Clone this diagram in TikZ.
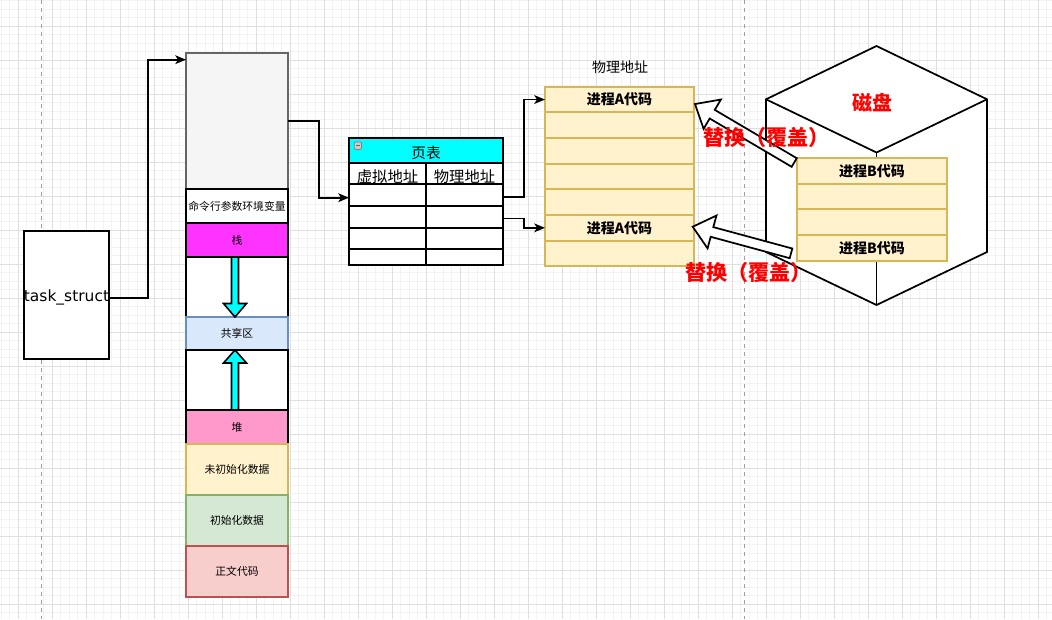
\documentclass[tikz,border=0pt]{standalone}
\usepackage{fontspec}
\setmainfont{Noto Sans CJK SC}
\newfontfamily\tsfont{DejaVu Sans}
\usetikzlibrary{arrows.meta,calc,fit}
\definecolor{gridmin}{HTML}{F3F3F3}
\definecolor{gridmaj}{HTML}{DFDFDF}
\definecolor{grayfill}{HTML}{F5F5F5}
\definecolor{grayline}{HTML}{666666}
\definecolor{stackc}{HTML}{FF33FF}
\definecolor{heapc}{HTML}{FF99CC}
\definecolor{bluef}{HTML}{DAE8FC}
\definecolor{bluel}{HTML}{6C8EBF}
\definecolor{yelf}{HTML}{FFF2CC}
\definecolor{yell}{HTML}{D6B656}
\definecolor{grnf}{HTML}{D5E8D4}
\definecolor{grnl}{HTML}{82B366}
\definecolor{redf}{HTML}{F8CECC}
\definecolor{redl}{HTML}{B85450}
\definecolor{cyanc}{HTML}{00FFFF}
\definecolor{pagebrk}{HTML}{A0A0A0}
\tikzset{
  rect/.style={draw=black, line width=1.4pt, inner sep=0pt, outer sep=0pt},
  crect/.style={draw=#1, line width=1.2pt, inner sep=0pt, outer sep=0pt},
  txt/.style={inner sep=0pt, anchor=center},
  small/.style={txt, font=\fontsize{8.1pt}{9pt}\selectfont},
  mid/.style={txt, font=\fontsize{11pt}{12pt}\selectfont},
  midb/.style={txt, font=\fontsize{10.5pt}{12pt}\selectfont\bfseries},
  redlbl/.style={text=red, font=\fontsize{15.8pt}{17pt}\selectfont\bfseries},
  arr/.style={draw=black, line width=1.4pt, -{Stealth[length=8pt,width=6.5pt,inset=2pt]}},
  cyanarrow/.style={fill=cyanc, draw=black, line width=1.2pt, line join=miter},
  flex/.style={fill=white, draw=black, line width=1.3pt, line join=miter},
  tline/.style={draw=black, line width=1.3pt, inner sep=0pt, outer sep=0pt}
}
\newcommand{\flexarrow}[2]{%
  \coordinate (hb) at ($(#2)!15pt!(#1)$);
  \draw[flex] ($(#1)!3.75pt!90:(#2)$) -- ($(hb)!3.75pt!90:(#2)$) -- ($(hb)!12.75pt!90:(#2)$) -- (#2)
    -- ($(hb)!12.75pt!-90:(#2)$) -- ($(hb)!3.75pt!-90:(#2)$) -- ($(#1)!3.75pt!-90:(#2)$) -- cycle;}
\begin{document}
\begin{tikzpicture}[x=0.75pt,y=-0.75pt]
\useasboundingbox (0,0) rectangle (1052,619);
\fill[white] (0,0) rectangle (1052,619);
% grid
\foreach \i in {0,...,123} {\draw[gridmin, line width=0.75pt] ({1.3+8.5*\i},0) -- ({1.3+8.5*\i},619);}
\foreach \i in {0,...,72} {\draw[gridmin, line width=0.75pt] (0,{0.8+8.5*\i}) -- (1052,{0.8+8.5*\i});}
\foreach \i in {0,...,30} {\draw[gridmaj, line width=0.75pt] ({18.3+34*\i},0) -- ({18.3+34*\i},619);}
\foreach \i in {0,...,17} {\draw[gridmaj, line width=0.75pt] (0,{26.3+34*\i}) -- (1052,{26.3+34*\i});}
\draw[pagebrk, line width=0.75pt, dash pattern=on 3pt off 3pt] (41.7,0) -- (41.7,619);
\draw[pagebrk, line width=0.75pt, dash pattern=on 3pt off 3pt] (744.7,0) -- (744.7,619);

% task_struct
\node[rect, fill=white, fit={(24,231) (109,359)}] (ts) {};
\node[txt, font=\tsfont\fontsize{11.6pt}{13pt}\selectfont] (tstext) at (66.5,297.5) {task\_struct};

% memory column
\node[crect=grayline, fill=grayfill, fit={(186,53) (288,189)}] (gray) {};
\node[rect, fill=white, fit={(186,189) (288,223)}] (env) {};
\node[rect, fill=stackc, fit={(186,223) (288,257)}] (stack) {};
\node[rect, fill=white, fit={(186,257) (288,317)}] (gap1) {};
\node[crect=bluel, fill=bluef, fit={(186,317) (288,350)}] (shared) {};
\node[rect, fill=white, fit={(186,350) (288,410)}] (gap2) {};
\node[rect, fill=heapc, fit={(186,410) (288,444)}] (heap) {};
\node[crect=yell, fill=yelf, fit={(186,444) (288,495)}] (bss) {};
\node[crect=grnl, fill=grnf, fit={(186,495) (288,546)}] (data) {};
\node[crect=redl, fill=redf, fit={(186,546) (288,597)}] (code) {};
\node[small] (envt) at (env.center) {命令行参数环境变量};
\node[small] (stackt) at (stack.center) {栈};
\node[small] (sharedt) at (shared.center) {共享区};
\node[small] (heapt) at (heap.center) {堆};
\node[small] (bsst) at (bss.center) {未初始化数据};
\node[small] (datat) at (data.center) {初始化数据};
\node[small] (codet) at (code.center) {正文代码};

% cyan arrows
\draw[cyanarrow] (231.5,257) -- (238.5,257) -- (238.5,303.5) -- (246.5,303.5) -- (235,317) -- (223.5,303.5) -- (231.5,303.5) -- cycle;
\draw[cyanarrow] (231.5,410) -- (238.5,410) -- (238.5,363) -- (246.5,363) -- (235,350) -- (223.5,363) -- (231.5,363) -- cycle;

% page table
\node[rect, fill=white, fit={(349,138) (503,265)}] (pt) {};
\node[rect, fill=cyanc, fit={(349,138) (503,163)}] (ph) {};
\node[mid] (pht) at ($(ph.center)+(0,2.5)$) {页表};
\fill[gray!40, draw=gray, line width=0.5pt, rounded corners=0.8pt] (354.3,142) rectangle (361.5,149.5);
\draw[gray!80!black, line width=0.8pt] (355.8,145.8) -- (360,145.8);
\node[tline, fit={(349,163) (426,184)}] (va) {};
\node[tline, fit={(426,163) (503,184)}] (pa) {};
\node[mid, font=\fontsize{11.5pt}{12pt}\selectfont] (vat) at ($(va.center)+(0,3.5)$) {虚拟地址};
\node[mid, font=\fontsize{11.5pt}{12pt}\selectfont] (pat) at ($(pa.center)+(0,3.5)$) {物理地址};
\node[tline, fit={(349,184) (426,206)}] (r1a) {};
\node[tline, fit={(426,184) (503,206)}] (r1b) {};
\node[tline, fit={(349,206) (426,228)}] (r2a) {};
\node[tline, fit={(426,206) (503,228)}] (r2b) {};
\node[tline, fit={(349,228) (426,249)}] (r3a) {};
\node[tline, fit={(426,228) (503,249)}] (r3b) {};
\node[tline, fit={(349,249) (426,265)}] (r4a) {};
\node[tline, fit={(426,249) (503,265)}] (r4b) {};
\draw[black, line width=1.5pt] (pt.north west) rectangle (pt.south east);

% physical memory
\node[txt, font=\fontsize{10.5pt}{12pt}\selectfont] (pmlabel) at (620,67.5) {物理地址};
\foreach \k in {1,...,7} {
  \node[crect=yell, fill=yelf, line width=1.4pt, fit={(545,{86.7+25.66*(\k-1)}) (694,{86.7+25.66*\k})}] (pm\k) {};
}
\node[midb] (pm1t) at (pm1.center) {进程A代码};
\node[midb] (pm6t) at (pm6.center) {进程A代码};

% cube (disk)
\draw[fill=white, line width=1.3pt, line join=miter] (876.5,46) -- (987,99.3) -- (987,252) -- (876.5,305) -- (766,252) -- (766,99.3) -- cycle;
\draw[line width=1.3pt] (766,99.3) -- (876.5,152.5) -- (987,99.3);
\draw[line width=1.3pt] (876.5,152.5) -- (876.5,305);
\node[txt, text=red, font=\fontsize{15pt}{17pt}\selectfont\bfseries] (disk) at (872.7,103) {磁盘};

% disk block
\foreach \k in {1,...,4} {
  \node[crect=yell, fill=yelf, line width=1.4pt, fit={(797,{158+25.67*(\k-1)}) (947,{158+25.67*\k})}] (db\k) {};
}
\node[midb] (db1t) at (db1.center) {进程B代码};
\node[midb] (db4t) at (db4.center) {进程B代码};

% connectors
\draw[arr] ($(ts.east)+(0,2.7)$) -- ++(39,0) |- ($(gray.north west)+(0,6.7)$);
\draw[arr] (gray.east) -- ++(31,0) |- ($(pt.north west)+(0,59.7)$);
\draw[arr] ($(pt.north east)+(0,58.7)$) -- ++(21,0) |- (pm1.west);
\draw[arr] ($(pt.north east)+(0,80.5)$) -- ++(21,0) |- (pm6.west);

% replace arrows
\coordinate (f1s) at ($(db1.north west)+(-2.8,4.5)$);
\coordinate (f1e) at ($(pm1.east)+(1,4.5)$);
\flexarrow{f1s}{f1e}
\coordinate (f2s) at ($(db4.west)+(-6,5.5)$);
\coordinate (f2e) at ($(pm6.east)+(-1.3,-1.1)$);
\flexarrow{f2s}{f2e}

\node[txt, redlbl] (rep1) at (766.5,137) {替换（覆盖）};
\node[txt, redlbl] (rep2) at (748.5,272.5) {替换（覆盖）};
\end{tikzpicture}
\end{document}
